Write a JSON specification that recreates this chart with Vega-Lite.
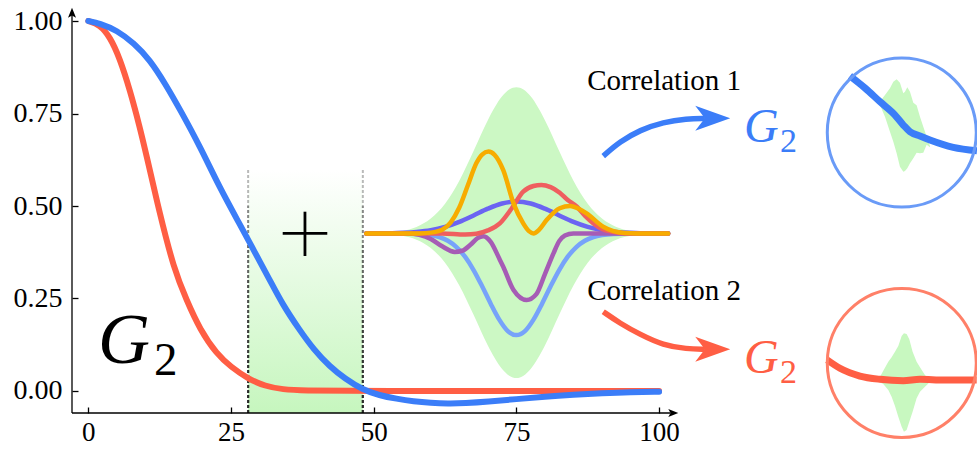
{
  "$schema": "https://vega.github.io/schema/vega-lite/v6.json",
  "width": 905,
  "height": 413,
  "autosize": {"type": "none"},
  "padding": {"left": 72, "top": 0, "right": 0, "bottom": 36},
  "background": "#ffffff",
  "config": {
    "view": {"stroke": null},
    "axis": {"domain": false, "grid": false, "title": null, "labelFont": "Liberation Serif", "labelFontSize": 28, "labelColor": "#000000", "tickColor": "#000000", "tickWidth": 1.3, "tickSize": -6, "labelFlush": false}
  },
  "datasets": {
    "band": [{"x": 28, "x2": 48.1, "y": -0.0595, "y2": 0.597}],
    "dash": [
      {"x": 28, "y": -0.0595, "y2": 0.6}, {"x": 28, "y": -0.0595, "y2": 0.5}, {"x": 28, "y": -0.0595, "y2": 0.4}, {"x": 28, "y": -0.0595, "y2": 0.3}, {"x": 28, "y": -0.0595, "y2": 0.2}, {"x": 28, "y": -0.0595, "y2": 0.1}, {"x": 28, "y": -0.0595, "y2": 0.0},
      {"x": 48.1, "y": -0.0595, "y2": 0.6}, {"x": 48.1, "y": -0.0595, "y2": 0.5}, {"x": 48.1, "y": -0.0595, "y2": 0.4}, {"x": 48.1, "y": -0.0595, "y2": 0.3}, {"x": 48.1, "y": -0.0595, "y2": 0.2}, {"x": 48.1, "y": -0.0595, "y2": 0.1}, {"x": 48.1, "y": -0.0595, "y2": 0.0}
    ],
    "env": [
      {"x": 47.5, "y": 0.426, "y2": 0.426}, {"x": 50, "y": 0.4253, "y2": 0.4267}, {"x": 52.5, "y": 0.4238, "y2": 0.4283}, {"x": 55, "y": 0.4194, "y2": 0.4327}, {"x": 57.5, "y": 0.4088, "y2": 0.4434}, {"x": 60, "y": 0.3865, "y2": 0.4659}, {"x": 62.5, "y": 0.3466, "y2": 0.5062}, {"x": 65, "y": 0.2852, "y2": 0.5682}, {"x": 67.5, "y": 0.2059, "y2": 0.6484}, {"x": 70, "y": 0.123, "y2": 0.732}, {"x": 72.5, "y": 0.0592, "y2": 0.7965}, {"x": 73.75, "y": 0.0412, "y2": 0.8148}, {"x": 75, "y": 0.035, "y2": 0.821}, {"x": 76.25, "y": 0.0412, "y2": 0.8148}, {"x": 77.5, "y": 0.0592, "y2": 0.7965}, {"x": 80, "y": 0.123, "y2": 0.732}, {"x": 82.5, "y": 0.2059, "y2": 0.6484}, {"x": 85, "y": 0.2852, "y2": 0.5682}, {"x": 87.5, "y": 0.3466, "y2": 0.5062}, {"x": 90, "y": 0.3865, "y2": 0.4659}, {"x": 92.5, "y": 0.4088, "y2": 0.4434}, {"x": 95, "y": 0.4194, "y2": 0.4327}, {"x": 97.5, "y": 0.4238, "y2": 0.4283}, {"x": 100, "y": 0.4253, "y2": 0.4267}, {"x": 102.5, "y": 0.426, "y2": 0.426}
    ],
    "inset": [
      {"s": "1v", "x": 48.7, "y": 0.426}, {"s": "1v", "x": 52, "y": 0.426}, {"s": "1v", "x": 55, "y": 0.4275}, {"s": "1v", "x": 57.5, "y": 0.4299}, {"s": "1v", "x": 60, "y": 0.4346}, {"s": "1v", "x": 62.5, "y": 0.4435}, {"s": "1v", "x": 65, "y": 0.457}, {"s": "1v", "x": 67.5, "y": 0.4745}, {"s": "1v", "x": 70, "y": 0.4927}, {"s": "1v", "x": 72.5, "y": 0.5067}, {"s": "1v", "x": 75, "y": 0.512}, {"s": "1v", "x": 77.5, "y": 0.5067}, {"s": "1v", "x": 80, "y": 0.4927}, {"s": "1v", "x": 82.5, "y": 0.4745}, {"s": "1v", "x": 85, "y": 0.457}, {"s": "1v", "x": 87.5, "y": 0.4435}, {"s": "1v", "x": 90, "y": 0.4346}, {"s": "1v", "x": 92.5, "y": 0.4299}, {"s": "1v", "x": 95, "y": 0.4275}, {"s": "1v", "x": 98, "y": 0.426}, {"s": "1v", "x": 101.6, "y": 0.426},
      {"s": "2lb", "x": 48.7, "y": 0.426}, {"s": "2lb", "x": 55, "y": 0.4259}, {"s": "2lb", "x": 58, "y": 0.4246}, {"s": "2lb", "x": 60, "y": 0.4214}, {"s": "2lb", "x": 61.5, "y": 0.416}, {"s": "2lb", "x": 63, "y": 0.406}, {"s": "2lb", "x": 64.5, "y": 0.389}, {"s": "2lb", "x": 66, "y": 0.363}, {"s": "2lb", "x": 67.5, "y": 0.327}, {"s": "2lb", "x": 69, "y": 0.283}, {"s": "2lb", "x": 70.5, "y": 0.236}, {"s": "2lb", "x": 72, "y": 0.193}, {"s": "2lb", "x": 73.5, "y": 0.162}, {"s": "2lb", "x": 75, "y": 0.151}, {"s": "2lb", "x": 76.5, "y": 0.162}, {"s": "2lb", "x": 78, "y": 0.193}, {"s": "2lb", "x": 79.5, "y": 0.236}, {"s": "2lb", "x": 81, "y": 0.283}, {"s": "2lb", "x": 82.5, "y": 0.327}, {"s": "2lb", "x": 84, "y": 0.363}, {"s": "2lb", "x": 85.5, "y": 0.389}, {"s": "2lb", "x": 87, "y": 0.406}, {"s": "2lb", "x": 88.5, "y": 0.416}, {"s": "2lb", "x": 90, "y": 0.4214}, {"s": "2lb", "x": 92, "y": 0.4246}, {"s": "2lb", "x": 95, "y": 0.4259}, {"s": "2lb", "x": 101.6, "y": 0.426},
      {"s": "3p", "x": 48.7, "y": 0.426}, {"s": "3p", "x": 56, "y": 0.426}, {"s": "3p", "x": 58, "y": 0.422}, {"s": "3p", "x": 60, "y": 0.411}, {"s": "3p", "x": 62, "y": 0.391}, {"s": "3p", "x": 64.2, "y": 0.376}, {"s": "3p", "x": 65.5, "y": 0.379}, {"s": "3p", "x": 67, "y": 0.396}, {"s": "3p", "x": 68.2, "y": 0.413}, {"s": "3p", "x": 69.2, "y": 0.418}, {"s": "3p", "x": 70.5, "y": 0.403}, {"s": "3p", "x": 72, "y": 0.358}, {"s": "3p", "x": 72.7, "y": 0.336}, {"s": "3p", "x": 74.5, "y": 0.273}, {"s": "3p", "x": 76.8, "y": 0.246}, {"s": "3p", "x": 78.5, "y": 0.262}, {"s": "3p", "x": 80, "y": 0.316}, {"s": "3p", "x": 81.5, "y": 0.372}, {"s": "3p", "x": 82.5, "y": 0.405}, {"s": "3p", "x": 83.5, "y": 0.42}, {"s": "3p", "x": 85, "y": 0.426}, {"s": "3p", "x": 101.6, "y": 0.426},
      {"s": "4r", "x": 48.7, "y": 0.426}, {"s": "4r", "x": 62, "y": 0.426}, {"s": "4r", "x": 66, "y": 0.423}, {"s": "4r", "x": 68, "y": 0.425}, {"s": "4r", "x": 70, "y": 0.434}, {"s": "4r", "x": 72.1, "y": 0.453}, {"s": "4r", "x": 74.2, "y": 0.494}, {"s": "4r", "x": 76.2, "y": 0.539}, {"s": "4r", "x": 78, "y": 0.554}, {"s": "4r", "x": 79.4, "y": 0.557}, {"s": "4r", "x": 81, "y": 0.551}, {"s": "4r", "x": 82.6, "y": 0.536}, {"s": "4r", "x": 84, "y": 0.516}, {"s": "4r", "x": 85.6, "y": 0.498}, {"s": "4r", "x": 87, "y": 0.474}, {"s": "4r", "x": 88.5, "y": 0.453}, {"s": "4r", "x": 90, "y": 0.438}, {"s": "4r", "x": 92, "y": 0.43}, {"s": "4r", "x": 94, "y": 0.426}, {"s": "4r", "x": 101.6, "y": 0.426},
      {"s": "5o", "x": 48.7, "y": 0.426}, {"s": "5o", "x": 58, "y": 0.426}, {"s": "5o", "x": 60, "y": 0.428}, {"s": "5o", "x": 62, "y": 0.436}, {"s": "5o", "x": 63.5, "y": 0.456}, {"s": "5o", "x": 65, "y": 0.496}, {"s": "5o", "x": 66.5, "y": 0.556}, {"s": "5o", "x": 68, "y": 0.616}, {"s": "5o", "x": 69, "y": 0.639}, {"s": "5o", "x": 70.1, "y": 0.647}, {"s": "5o", "x": 71.2, "y": 0.638}, {"s": "5o", "x": 72.7, "y": 0.597}, {"s": "5o", "x": 74.5, "y": 0.507}, {"s": "5o", "x": 76.2, "y": 0.453}, {"s": "5o", "x": 77.2, "y": 0.432}, {"s": "5o", "x": 78, "y": 0.426}, {"s": "5o", "x": 79, "y": 0.436}, {"s": "5o", "x": 80.3, "y": 0.462}, {"s": "5o", "x": 82.6, "y": 0.494}, {"s": "5o", "x": 84.4, "y": 0.5}, {"s": "5o", "x": 86, "y": 0.492}, {"s": "5o", "x": 87.3, "y": 0.48}, {"s": "5o", "x": 90.2, "y": 0.444}, {"s": "5o", "x": 92, "y": 0.432}, {"s": "5o", "x": 94, "y": 0.427}, {"s": "5o", "x": 96, "y": 0.426}, {"s": "5o", "x": 101.6, "y": 0.426}
    ],
    "main": [
      {"s": "red", "x": 0, "y": 1.0}, {"s": "red", "x": 2, "y": 0.99}, {"s": "red", "x": 3.8, "y": 0.957}, {"s": "red", "x": 5.5, "y": 0.9}, {"s": "red", "x": 7.3, "y": 0.813}, {"s": "red", "x": 9, "y": 0.714}, {"s": "red", "x": 10, "y": 0.65}, {"s": "red", "x": 12.5, "y": 0.48}, {"s": "red", "x": 15, "y": 0.33}, {"s": "red", "x": 17.2, "y": 0.246}, {"s": "red", "x": 19.6, "y": 0.165}, {"s": "red", "x": 22.5, "y": 0.1}, {"s": "red", "x": 25, "y": 0.065}, {"s": "red", "x": 28, "y": 0.033}, {"s": "red", "x": 31, "y": 0.013}, {"s": "red", "x": 34, "y": 0.004}, {"s": "red", "x": 38, "y": 0.001}, {"s": "red", "x": 45, "y": 0.0}, {"s": "red", "x": 100, "y": 0.0},
      {"s": "blue", "x": 0, "y": 1.0}, {"s": "blue", "x": 2, "y": 0.994}, {"s": "blue", "x": 5, "y": 0.975}, {"s": "blue", "x": 8, "y": 0.94}, {"s": "blue", "x": 10.8, "y": 0.895}, {"s": "blue", "x": 13.5, "y": 0.83}, {"s": "blue", "x": 16.1, "y": 0.76}, {"s": "blue", "x": 19.6, "y": 0.66}, {"s": "blue", "x": 23, "y": 0.55}, {"s": "blue", "x": 26.6, "y": 0.449}, {"s": "blue", "x": 29, "y": 0.38}, {"s": "blue", "x": 31.8, "y": 0.3}, {"s": "blue", "x": 34, "y": 0.235}, {"s": "blue", "x": 37, "y": 0.165}, {"s": "blue", "x": 39.5, "y": 0.112}, {"s": "blue", "x": 42.3, "y": 0.066}, {"s": "blue", "x": 45, "y": 0.033}, {"s": "blue", "x": 48, "y": 0.004}, {"s": "blue", "x": 51, "y": -0.012}, {"s": "blue", "x": 54, "y": -0.021}, {"s": "blue", "x": 57, "y": -0.028}, {"s": "blue", "x": 60, "y": -0.032}, {"s": "blue", "x": 63, "y": -0.034}, {"s": "blue", "x": 66, "y": -0.033}, {"s": "blue", "x": 70, "y": -0.029}, {"s": "blue", "x": 75, "y": -0.022}, {"s": "blue", "x": 80, "y": -0.015}, {"s": "blue", "x": 85, "y": -0.01}, {"s": "blue", "x": 90, "y": -0.006}, {"s": "blue", "x": 95, "y": -0.003}, {"s": "blue", "x": 100, "y": -0.002}
    ],
    "axes": [
      {"x": -2.855, "x2": 102, "y": -0.0595, "y2": -0.0595},
      {"x": -2.855, "x2": -2.855, "y": -0.0595, "y2": 1.02}
    ],
    "xhead": [{"x": 102.49, "y": -0.0595}],
    "yhead": [{"x": -2.855, "y": 1.0222}],
    "plus": [
      {"x": 34.06, "x2": 41.87, "y": 0.4262, "y2": 0.4262},
      {"x": 37.96, "x2": 37.96, "y": 0.3649, "y2": 0.4846}
    ],
    "bigG": [{"x": 1.7, "y": 0.0757, "t": "G"}],
    "bigSub": [{"x": 11.5, "y": 0.0432, "t": "2"}],
    "corr": [{"x": 87.4, "y": 0.8135, "t": "Correlation 1"}, {"x": 87.4, "y": 0.246, "t": "Correlation 2"}],
    "arrows": [
      {"s": "c1", "x": 90.22, "y": 0.635}, {"s": "c1", "x": 93.15, "y": 0.674}, {"s": "c1", "x": 96.66, "y": 0.7054}, {"s": "c1", "x": 100.74, "y": 0.7267}, {"s": "c1", "x": 104.84, "y": 0.736}, {"s": "c1", "x": 108.04, "y": 0.737},
      {"s": "c2", "x": 90.22, "y": 0.2143}, {"s": "c2", "x": 93.15, "y": 0.183}, {"s": "c2", "x": 96.66, "y": 0.1528}, {"s": "c2", "x": 100.74, "y": 0.1236}, {"s": "c2", "x": 104.84, "y": 0.1137}, {"s": "c2", "x": 108.04, "y": 0.1127}
    ],
    "heads": [{"s": "c1", "x": 109.4, "y": 0.737}, {"s": "c2", "x": 109.4, "y": 0.1127}],
    "gtext": [{"s": "c1", "x": 114.87, "y": 0.674, "t": "G"}, {"s": "c2", "x": 114.87, "y": 0.0495, "t": "G"}],
    "gsub": [{"s": "c1", "x": 121.2, "y": 0.647, "t": "2"}, {"s": "c2", "x": 121.2, "y": 0.0224, "t": "2"}],
    "blobs": [
      {"s": "c1", "x": 138.7, "y": 0.773, "y2": 0.782}, {"s": "c1", "x": 139.58, "y": 0.7414, "y2": 0.8}, {"s": "c1", "x": 140.45, "y": 0.7009, "y2": 0.818}, {"s": "c1", "x": 141.04, "y": 0.6739, "y2": 0.836}, {"s": "c1", "x": 141.62, "y": 0.6423, "y2": 0.8423}, {"s": "c1", "x": 142.2, "y": 0.6063, "y2": 0.8333}, {"s": "c1", "x": 142.79, "y": 0.5928, "y2": 0.8045}, {"s": "c1", "x": 143.08, "y": 0.5946, "y2": 0.809}, {"s": "c1", "x": 143.49, "y": 0.6018, "y2": 0.8207}, {"s": "c1", "x": 143.96, "y": 0.6153, "y2": 0.809}, {"s": "c1", "x": 144.54, "y": 0.6288, "y2": 0.7793}, {"s": "c1", "x": 145.12, "y": 0.6442, "y2": 0.7721}, {"s": "c1", "x": 145.71, "y": 0.6423, "y2": 0.7414}, {"s": "c1", "x": 146.29, "y": 0.6442, "y2": 0.7144}, {"s": "c1", "x": 146.88, "y": 0.6653, "y2": 0.6874}, {"s": "c1", "x": 147.46, "y": 0.6586, "y2": 0.6622},
      {"s": "c2", "x": 138.41, "y": 0.0252, "y2": 0.0297}, {"s": "c2", "x": 139.28, "y": 0.0189, "y2": 0.055}, {"s": "c2", "x": 140.16, "y": 0.0027, "y2": 0.0793}, {"s": "c2", "x": 140.74, "y": -0.0153, "y2": 0.091}, {"s": "c2", "x": 141.33, "y": -0.0405, "y2": 0.1063}, {"s": "c2", "x": 141.91, "y": -0.0694, "y2": 0.1216}, {"s": "c2", "x": 142.5, "y": -0.0964, "y2": 0.1486}, {"s": "c2", "x": 142.9, "y": -0.1099, "y2": 0.1559}, {"s": "c2", "x": 143.37, "y": -0.1054, "y2": 0.1541}, {"s": "c2", "x": 143.84, "y": -0.0829, "y2": 0.1396}, {"s": "c2", "x": 144.42, "y": -0.0559, "y2": 0.1063}, {"s": "c2", "x": 145.12, "y": -0.0198, "y2": 0.0793}, {"s": "c2", "x": 145.71, "y": -0.0018, "y2": 0.064}, {"s": "c2", "x": 146.58, "y": 0.0117, "y2": 0.0432}, {"s": "c2", "x": 147.46, "y": 0.0243, "y2": 0.0297}
    ],
    "zlines": [
      {"s": "c1", "x": 133.44, "y": 0.8514}, {"s": "c1", "x": 136.07, "y": 0.8189}, {"s": "c1", "x": 138.7, "y": 0.7819}, {"s": "c1", "x": 141.33, "y": 0.7459}, {"s": "c1", "x": 142.79, "y": 0.7189}, {"s": "c1", "x": 143.96, "y": 0.7008}, {"s": "c1", "x": 145.71, "y": 0.6892}, {"s": "c1", "x": 147.46, "y": 0.6784}, {"s": "c1", "x": 151.54, "y": 0.6586}, {"s": "c1", "x": 155.69, "y": 0.6495},
      {"s": "c2", "x": 129.47, "y": 0.0838}, {"s": "c2", "x": 131.69, "y": 0.0614}, {"s": "c2", "x": 135.19, "y": 0.0405}, {"s": "c2", "x": 138.7, "y": 0.0316}, {"s": "c2", "x": 142.78, "y": 0.0278}, {"s": "c2", "x": 145.71, "y": 0.0316}, {"s": "c2", "x": 150, "y": 0.0297}, {"s": "c2", "x": 155.64, "y": 0.0297}
    ],
    "circles": [{"s": "c1", "x": 142.52, "y": 0.6986}, {"s": "c2", "x": 142.52, "y": 0.0757}]
  },
  "encoding": {
    "x": {"field": "x", "type": "quantitative", "scale": {"domain": [-2.855, 155.7], "nice": false, "zero": false}, "axis": {"values": [0, 25, 50, 75, 100], "format": "d", "labelPadding": 12, "labelFontSize": 27}},
    "y": {"field": "y", "type": "quantitative", "scale": {"domain": [-0.0595, 1.0568], "nice": false, "zero": false}, "axis": {"values": [0, 0.25, 0.5, 0.75, 1], "format": ".2f", "labelPadding": 16}}
  },
  "resolve": {"scale": {"color": "independent"}},
  "layer": [
    {"data": {"name": "band"}, "mark": {"type": "rect", "color": {"gradient": "linear", "x1": 0, "y1": 0, "x2": 0, "y2": 1, "stops": [{"offset": 0, "color": "#ffffff"}, {"offset": 1, "color": "#c6f6be"}]}}, "encoding": {"x2": {"field": "x2"}, "y2": {"field": "y2"}}},
    {"data": {"name": "dash"}, "mark": {"type": "rule", "color": "#1a1a1a", "strokeWidth": 2, "strokeDash": [3, 2], "opacity": 0.3}, "encoding": {"y2": {"field": "y2"}}},
    {"data": {"name": "env"}, "mark": {"type": "area", "color": "#ccf8c4", "opacity": 1, "interpolate": "monotone"}, "encoding": {"y2": {"field": "y2"}}},
    {"data": {"name": "inset"}, "mark": {"type": "line", "strokeWidth": 4.5, "interpolate": "monotone", "strokeCap": "round"}, "encoding": {"color": {"field": "s", "type": "nominal", "scale": {"domain": ["1v", "2lb", "3p", "4r", "5o"], "range": ["#6B64F2", "#77A3FA", "#A65CB5", "#EF5F5F", "#F7AC00"]}, "legend": null}}},
    {"data": {"name": "main"}, "mark": {"type": "line", "strokeWidth": 6, "interpolate": "basis", "strokeCap": "round"}, "encoding": {"color": {"field": "s", "type": "nominal", "scale": {"domain": ["red", "blue"], "range": ["#FF5E44", "#3B7DF8"]}, "legend": null}}},
    {"data": {"name": "axes"}, "mark": {"type": "rule", "color": "#000000", "strokeWidth": 1.3}, "encoding": {"x2": {"field": "x2"}, "y2": {"field": "y2"}}},
    {"data": {"name": "xhead"}, "mark": {"type": "point", "shape": "M1,0L-1,-0.8L-0.55,0L-1,0.8Z", "size": 100, "filled": true, "color": "#000000", "opacity": 1, "strokeWidth": 0}},
    {"data": {"name": "yhead"}, "mark": {"type": "point", "shape": "M0,-1L-0.8,1L0,0.55L0.8,1Z", "size": 100, "filled": true, "color": "#000000", "opacity": 1, "strokeWidth": 0}},
    {"data": {"name": "plus"}, "mark": {"type": "rule", "color": "#000000", "strokeWidth": 2.8}, "encoding": {"x2": {"field": "x2"}, "y2": {"field": "y2"}}},
    {"data": {"name": "bigG"}, "mark": {"type": "text", "align": "left", "baseline": "alphabetic", "font": "Liberation Serif", "fontStyle": "italic", "fontSize": 72, "color": "#000000"}, "encoding": {"text": {"field": "t"}}},
    {"data": {"name": "bigSub"}, "mark": {"type": "text", "align": "left", "baseline": "alphabetic", "font": "Liberation Serif", "fontSize": 47, "color": "#000000"}, "encoding": {"text": {"field": "t"}}},
    {"data": {"name": "corr"}, "mark": {"type": "text", "align": "left", "baseline": "alphabetic", "font": "Liberation Serif", "fontSize": 29, "color": "#000000"}, "encoding": {"text": {"field": "t"}}},
    {"data": {"name": "arrows"}, "mark": {"type": "line", "strokeWidth": 5.5, "interpolate": "basis", "strokeCap": "butt"}, "encoding": {"color": {"field": "s", "type": "nominal", "scale": {"domain": ["c1", "c2"], "range": ["#3B7DF8", "#FF5E44"]}, "legend": null}}},
    {"data": {"name": "heads"}, "mark": {"type": "point", "shape": "M1,0L-1,-0.714L-0.45,0L-1,0.714Z", "size": 1225, "filled": true, "opacity": 1, "strokeWidth": 0}, "encoding": {"color": {"field": "s", "type": "nominal", "scale": {"domain": ["c1", "c2"], "range": ["#3B7DF8", "#FF5E44"]}, "legend": null}}},
    {"data": {"name": "gtext"}, "mark": {"type": "text", "align": "left", "baseline": "alphabetic", "font": "Liberation Serif", "fontStyle": "italic", "fontSize": 48}, "encoding": {"text": {"field": "t"}, "color": {"field": "s", "type": "nominal", "scale": {"domain": ["c1", "c2"], "range": ["#3B7DF8", "#FF5E44"]}, "legend": null}}},
    {"data": {"name": "gsub"}, "mark": {"type": "text", "align": "left", "baseline": "alphabetic", "font": "Liberation Serif", "fontSize": 34}, "encoding": {"text": {"field": "t"}, "color": {"field": "s", "type": "nominal", "scale": {"domain": ["c1", "c2"], "range": ["#3B7DF8", "#FF5E44"]}, "legend": null}}},
    {"data": {"name": "blobs"}, "mark": {"type": "area", "color": "#c8f8c0", "opacity": 1, "interpolate": "linear"}, "encoding": {"y2": {"field": "y2"}, "detail": {"field": "s", "type": "nominal"}}},
    {"data": {"name": "zlines"}, "mark": {"type": "line", "strokeWidth": 7, "interpolate": "monotone", "strokeCap": "butt"}, "encoding": {"color": {"field": "s", "type": "nominal", "scale": {"domain": ["c1", "c2"], "range": ["#3B7DF8", "#FF5E44"]}, "legend": null}}},
    {"data": {"name": "circles"}, "mark": {"type": "point", "shape": "circle", "size": 22201, "filled": false, "opacity": 1, "strokeWidth": 3}, "encoding": {"color": {"field": "s", "type": "nominal", "scale": {"domain": ["c1", "c2"], "range": ["#6A9BF7", "#FF8068"]}, "legend": null}}}
  ]
}
